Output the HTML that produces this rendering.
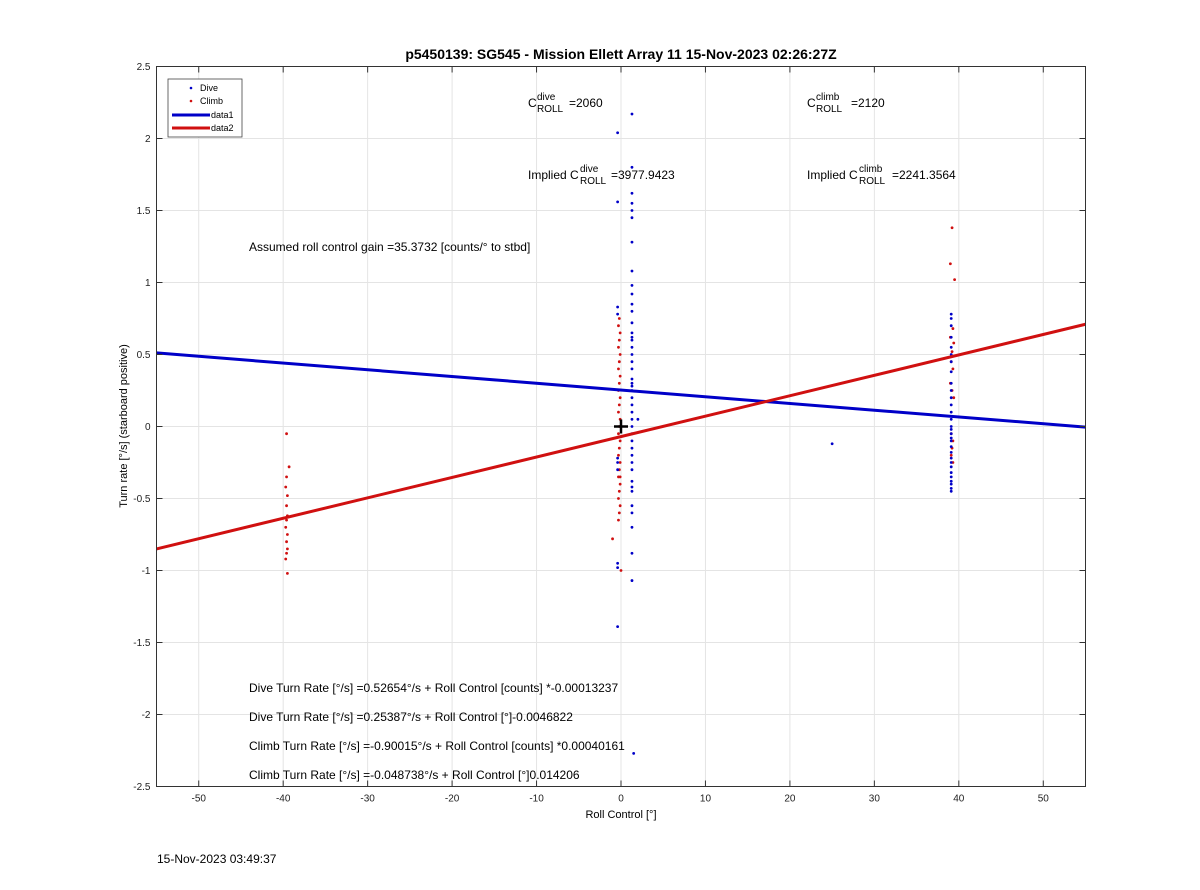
<!DOCTYPE html>
<html><head><meta charset="utf-8"><style>
body{margin:0;background:#fff;font-family:"Liberation Sans",sans-serif}
svg text{font-family:"Liberation Sans",sans-serif}
</style></head><body>
<svg id="chart" width="1200" height="885" viewBox="0 0 1200 885" xmlns="http://www.w3.org/2000/svg">
<rect width="1200" height="885" fill="#fff"/>
<g id="grid"></g>
<g id="marks"></g>
<g id="axes"></g>
<text x="621" y="59" font-size="14" font-weight="bold" text-anchor="middle">p5450139: SG545 - Mission Ellett Array 11 15-Nov-2023 02:26:27Z</text>
<text x="621" y="818" font-size="11" text-anchor="middle">Roll Control [°]</text>
<text transform="translate(127,426) rotate(-90)" font-size="11" text-anchor="middle">Turn rate [°/s] (starboard positive)</text>
<g font-size="12">
<text x="528" y="107">C</text><text x="537" y="100" font-size="10">dive</text><text x="537" y="112" font-size="10">ROLL</text><text x="569" y="107">=2060</text>
<text x="807" y="107">C</text><text x="816" y="100" font-size="10">climb</text><text x="816" y="112" font-size="10">ROLL</text><text x="851" y="107">=2120</text>
<text x="528" y="179">Implied C</text><text x="580" y="172" font-size="10">dive</text><text x="580" y="184" font-size="10">ROLL</text><text x="611" y="179">=3977.9423</text>
<text x="807" y="179">Implied C</text><text x="859" y="172" font-size="10">climb</text><text x="859" y="184" font-size="10">ROLL</text><text x="892" y="179">=2241.3564</text>
<text x="249" y="251">Assumed roll control gain =35.3732 [counts/° to stbd]</text>
<text x="249" y="692">Dive Turn Rate [°/s] =0.52654°/s + Roll Control [counts] *-0.00013237</text>
<text x="249" y="721">Dive Turn Rate [°/s] =0.25387°/s + Roll Control [°]-0.0046822</text>
<text x="249" y="750">Climb Turn Rate [°/s] =-0.90015°/s + Roll Control [counts] *0.00040161</text>
<text x="249" y="779">Climb Turn Rate [°/s] =-0.048738°/s + Roll Control [°]0.014206</text>
</g>
<text x="157" y="863" font-size="12">15-Nov-2023 03:49:37</text>
<g>
<rect x="168" y="79" width="74" height="58" fill="#fff" stroke="#444" stroke-width="0.8"/>
<circle cx="191" cy="88" r="1.3" fill="#0000c8"/><text x="200" y="91" font-size="9">Dive</text>
<circle cx="191" cy="101" r="1.3" fill="#d01010"/><text x="200" y="104" font-size="9">Climb</text>
<line x1="172" y1="115" x2="210" y2="115" stroke="#0000c8" stroke-width="3"/><text x="211" y="118" font-size="9">data1</text>
<line x1="172" y1="128" x2="210" y2="128" stroke="#d01010" stroke-width="3"/><text x="211" y="131" font-size="9">data2</text>
</g>
</svg>
<script>
const xTicks=[-50,-40,-30,-20,-10,0,10,20,30,40,50];
const yTicks=[-2.5,-2,-1.5,-1,-0.5,0,0.5,1,1.5,2,2.5];
const xDomain=[-55,55], yDomain=[-2.5,2.5];
const fitX=[-55,55];
const diveFit=[0.511,-0.004];
const climbFit=[-0.85,0.71];
const diveX=[1.3,1.3,1.3,1.3,1.3,1.3,1.3,1.3,1.3,1.3,1.3,1.3,1.3,1.3,1.3,1.3,1.3,1.3,1.3,1.3,1.3,1.3,1.3,1.3,1.3,1.3,1.3,1.3,1.3,1.3,1.3,1.3,1.3,1.3,1.3,1.3,1.3,1.3,1.3,1.3,1.3,1.3,1.3,1.5,-0.4,-0.4,-0.4,-0.4,-0.4,-0.4,-0.4,-0.4,-0.4,-0.4,2,25,
39.1,39.1,39.1,39.1,39.1,39.1,39.1,39.1,39.1,39.1,39.1,39.1,39.1,39.1,39.1,39.1,39.1,39.1,39.1,39.1,39.1,39.1,39.1,39.1,39.1,39.1,39.1,39.1,39.1,39.1];
const diveY=[2.17,1.80,1.62,1.55,1.50,1.45,1.28,1.08,0.98,0.92,0.85,0.80,0.72,0.65,0.62,0.60,0.55,0.50,0.45,0.40,0.33,0.30,0.28,0.25,0.20,0.15,0.10,0.05,0.0,-0.05,-0.10,-0.15,-0.20,-0.25,-0.30,-0.38,-0.42,-0.45,-0.55,-0.60,-0.70,-0.88,-1.07,-2.27,2.04,1.56,0.83,0.78,-0.22,-0.30,-0.25,-0.95,-0.98,-1.39,0.05,-0.12,
0.78,0.75,0.70,0.62,0.55,0.50,0.45,0.38,0.30,0.25,0.20,0.15,0.10,0.05,0.0,-0.02,-0.05,-0.08,-0.10,-0.14,-0.18,-0.22,-0.25,-0.28,-0.32,-0.35,-0.38,-0.40,-0.43,-0.45];
const climbX=[-0.2,-0.3,-0.1,-0.2,-0.3,-0.1,-0.2,-0.3,-0.1,-0.2,-0.3,-0.1,-0.2,-0.3,-0.1,-0.2,-0.3,-0.1,-0.2,-0.3,-0.1,-0.2,-0.3,-0.1,-0.2,-0.3,-0.1,-0.2,-0.3,-0.1,-1.0,0.0,
-39.6,-39.3,-39.6,-39.7,-39.5,-39.6,-39.5,-39.6,-39.7,-39.5,-39.6,-39.5,-39.6,-39.7,-39.5,
39.2,39.0,39.5,39.3,39.0,39.4,39.2,39.1,39.3,39.0,39.2,39.4,39.1,39.3,39.2,39.1,39.3];
const climbY=[0.75,0.70,0.65,0.60,0.55,0.50,0.45,0.40,0.35,0.30,0.25,0.20,0.15,0.10,0.05,0.0,-0.05,-0.10,-0.15,-0.20,-0.25,-0.30,-0.35,-0.40,-0.45,-0.50,-0.55,-0.60,-0.65,-0.35,-0.78,-1.0,
-0.05,-0.28,-0.35,-0.42,-0.48,-0.55,-0.62,-0.65,-0.70,-0.75,-0.80,-0.85,-0.88,-0.92,-1.02,
1.38,1.13,1.02,0.68,0.62,0.58,0.52,0.45,0.40,0.30,0.25,0.20,-0.05,-0.10,-0.15,-0.20,-0.25];
const L=156.5,R=1085.5,T=66.5,B=786.5;
const sx=v=>L+(v-xDomain[0])/(xDomain[1]-xDomain[0])*(R-L);
const sy=v=>B-(v-yDomain[0])/(yDomain[1]-yDomain[0])*(B-T);
const NS='http://www.w3.org/2000/svg';
function mk(tag,attrs,parent){const e=document.createElementNS(NS,tag);for(const k in attrs)e.setAttribute(k,attrs[k]);parent.appendChild(e);return e;}
const grid=document.getElementById('grid'),marks=document.getElementById('marks'),axes=document.getElementById('axes');
xTicks.forEach(t=>{const g=mk('line',{x1:sx(t),x2:sx(t),y1:T,y2:B,stroke:'#e4e4e4','stroke-width':1},grid);

const tk=mk('line',{x1:sx(t),x2:sx(t),y1:B,y2:B-6,stroke:'#333'},axes);
const tk2=mk('line',{x1:sx(t),x2:sx(t),y1:T,y2:T+6,stroke:'#333'},axes);
const tx=mk('text',{x:sx(t),y:B+15,'font-size':10,'text-anchor':'middle',fill:'#222'},axes);tx.textContent=t;
});
yTicks.forEach(t=>{const g=mk('line',{x1:L,x2:R,y1:sy(t),y2:sy(t),stroke:'#e4e4e4','stroke-width':1},grid);

const tk=mk('line',{x1:L,x2:L+6,y1:sy(t),y2:sy(t),stroke:'#333'},axes);
const tk2=mk('line',{x1:R,x2:R-6,y1:sy(t),y2:sy(t),stroke:'#333'},axes);
const tx=mk('text',{x:L-6,y:sy(t)+3.5,'font-size':10,'text-anchor':'end',fill:'#222'},axes);tx.textContent=t;
});
const box=mk('rect',{x:L,y:T,width:R-L,height:B-T,fill:'none',stroke:'#333','stroke-width':1},axes);

climbX.forEach((x,i)=>{const c=mk('circle',{cx:sx(x),cy:sy(climbY[i]),r:1.4,fill:'#d01010'},marks);
});
diveX.forEach((x,i)=>{const c=mk('circle',{cx:sx(x),cy:sy(diveY[i]),r:1.4,fill:'#0000c8'},marks);
});
const l1=mk('line',{x1:sx(fitX[0]),y1:sy(diveFit[0]),x2:sx(fitX[1]),y2:sy(diveFit[1]),stroke:'#0000c8','stroke-width':3},marks);

const l2=mk('line',{x1:sx(fitX[0]),y1:sy(climbFit[0]),x2:sx(fitX[1]),y2:sy(climbFit[1]),stroke:'#d01010','stroke-width':3},marks);

const cp=mk('path',{d:`M${sx(0)-7},${sy(0)}h14M${sx(0)},${sy(0)-7}v14`,stroke:'#000','stroke-width':2.5},marks);

</script>
</body></html>
